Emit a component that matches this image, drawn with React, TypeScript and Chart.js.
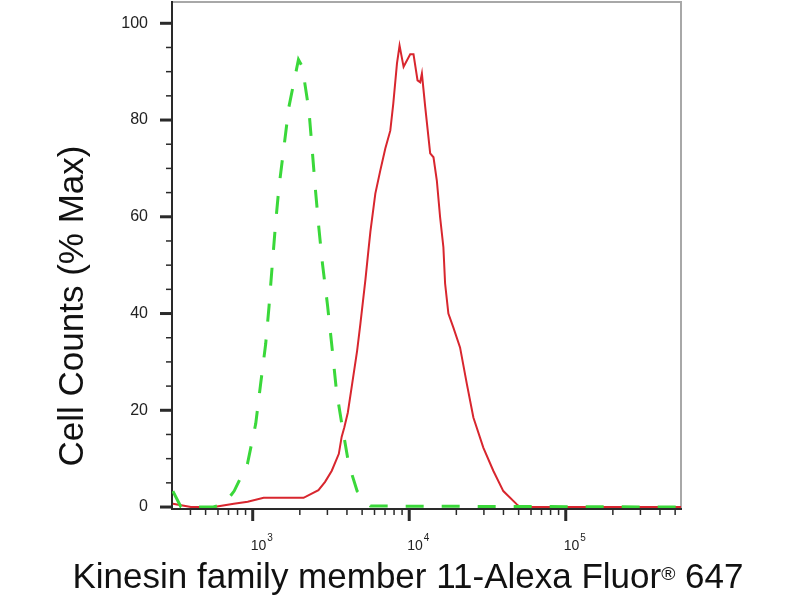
import React, { useEffect, useRef } from 'react';
import { Chart, registerables } from 'chart.js';

Chart.register(...registerables);

// Red sample histogram (fluorescence intensity, % max)
const redX = [309, 403, 565, 757, 929, 1175, 2113, 2630, 2900, 3200, 3550, 3700, 3850, 4050, 4316, 4645, 4876, 5250, 5484, 5650, 6073, 6536, 7033, 7568, 7909, 8351, 8675, 9204, 10145, 10650, 11300, 11750, 12050, 12650, 13610, 14290, 15010, 15750, 16530, 16950, 17790, 19150, 21120, 23320, 25700, 29740, 34440, 39910, 48530, 50950, 545000];
const redY = [0.7, 0, 0, 0.7, 1.1, 1.9, 1.9, 3.5, 5.2, 7.5, 11, 14.5, 16.5, 19.5, 25.4, 32.3, 37.9, 47, 53, 57, 64.8, 69.6, 74.1, 77.8, 83.4, 91.7, 95.4, 91, 93.6, 93.6, 88.2, 87.8, 89.6, 82.7, 73.1, 72.3, 67.5, 59.9, 53.7, 46.2, 40, 37.1, 33, 25.5, 18.5, 12.3, 7.5, 3.3, 0.6, 0, 0];

// Green isotype control histogram
const greenX = [309, 348, 560, 656, 761, 925, 1045, 1124, 1210, 1270, 1335, 1400, 1471, 1583, 1703, 1960, 2074, 2287, 2401, 2519, 2644, 2790, 3004, 3219, 3428, 3726, 4104, 4645, 5650, 545000];
const greenY = [3.3, 0, 0, 0.6, 3.3, 8.9, 17.2, 25.5, 33.7, 41.3, 50.3, 58.6, 66.1, 74.4, 82.7, 92.5, 91, 82, 73.7, 65.4, 57.8, 50.3, 41.8, 32.7, 24, 16.8, 8.9, 3.3, 0.2, 0];

const xTickValues = [1000, 10000, 100000];
const xTickBase = '10';
const xTickExponents = ['3', '4', '5'];
const xMinorTicks = [300, 400, 500, 600, 700, 800, 900, 2000, 3000, 4000, 5000, 6000, 7000, 8000, 9000, 20000, 30000, 40000, 50000, 60000, 70000, 80000, 90000, 200000, 300000, 400000, 500000];
const yTickValues = [0, 20, 40, 60, 80, 100];
const yMinorTicks = [5, 10, 15, 25, 30, 35, 45, 50, 55, 65, 70, 75, 85, 90, 95];

const xTitle = 'Kinesin family member 11-Alexa Fluor';
const xTitleSup = '®';
const xTitleEnd = ' 647';
const yTitle = 'Cell Counts (% Max)';

const NARROW = "'Liberation Sans Narrow', 'Liberation Sans', Arial, sans-serif";

const decorPlugin = {
  id: 'decor',
  beforeDatasetsDraw(chart: any) {
    const { ctx, chartArea: a, scales } = chart;
    const xs = scales.x;
    const ys = scales.y;
    ctx.save();
    ctx.lineCap = 'butt';
    // top & right frame
    ctx.strokeStyle = '#a8a8a8';
    ctx.lineWidth = 2;
    ctx.beginPath();
    ctx.moveTo(a.left, a.top);
    ctx.lineTo(a.right, a.top);
    ctx.lineTo(a.right, a.bottom);
    ctx.stroke();
    // left & bottom axes
    ctx.strokeStyle = '#2a2a2a';
    ctx.beginPath();
    ctx.moveTo(a.left, a.top - 1);
    ctx.lineTo(a.left, a.bottom + 1);
    ctx.lineTo(a.right + 1, a.bottom + 1);
    ctx.stroke();
    // y ticks
    for (const v of yTickValues) {
      const y = ys.getPixelForValue(v);
      ctx.lineWidth = 3;
      ctx.beginPath();
      ctx.moveTo(a.left - 12, y);
      ctx.lineTo(a.left, y);
      ctx.stroke();
    }
    ctx.lineWidth = 1.5;
    for (const v of yMinorTicks) {
      const y = ys.getPixelForValue(v);
      ctx.beginPath();
      ctx.moveTo(a.left - 6, y);
      ctx.lineTo(a.left, y);
      ctx.stroke();
    }
    // x ticks
    const b = a.bottom + 1;
    for (const v of xTickValues) {
      const x = xs.getPixelForValue(v);
      ctx.lineWidth = 3;
      ctx.beginPath();
      ctx.moveTo(x, b);
      ctx.lineTo(x, b + 12);
      ctx.stroke();
    }
    ctx.lineWidth = 1.5;
    for (const v of xMinorTicks) {
      if (v < xs.min || v > xs.max) continue;
      const x = xs.getPixelForValue(v);
      ctx.beginPath();
      ctx.moveTo(x, b);
      ctx.lineTo(x, b + 6);
      ctx.stroke();
    }
    // x tick labels: 10 with superscript exponent
    ctx.fillStyle = '#222';
    ctx.textBaseline = 'alphabetic';
    xTickValues.forEach((v, i) => {
      const x = xs.getPixelForValue(v);
      ctx.font = `14px ${NARROW}`;
      ctx.textAlign = 'left';
      const bw = ctx.measureText(xTickBase).width;
      const x0 = x - 2;
      ctx.fillText(xTickBase, x0, 550);
      ctx.font = `10px ${NARROW}`;
      ctx.fillText(xTickExponents[i], x0 + bw + 1, 541);
    });
    ctx.restore();
  },
};

export default function App() {
  const ref = useRef<HTMLCanvasElement | null>(null);

  useEffect(() => {
    if (!ref.current) return;
    const chart = new Chart(ref.current, {
      type: 'line',
      data: {
        datasets: [
          {
            label: 'Isotype control',
            data: greenX.map((x, i) => ({ x, y: greenY[i] })),
            borderColor: '#3ad83a',
            borderWidth: 3,
            borderDash: [18, 18],
            pointRadius: 0,
            tension: 0,
            fill: false,
          },
          {
            label: 'Kinesin family member 11',
            data: redX.map((x, i) => ({ x, y: redY[i] })),
            borderColor: '#d8262e',
            borderWidth: 2,
            pointRadius: 0,
            tension: 0,
            fill: false,
          },
        ],
      },
      options: {
        animation: false,
        responsive: false,
        maintainAspectRatio: false,
        layout: { padding: { top: 2, right: 119, left: 0, bottom: 0 } },
        plugins: {
          legend: { display: false },
          tooltip: { enabled: false },
        },
        scales: {
          x: {
            type: 'logarithmic',
            min: 305,
            max: 545000,
            grid: { display: false, drawTicks: false },
            border: { display: false },
            afterFit: (s: any) => {
              s.height = 92;
              s.paddingLeft = 0;
              s.paddingRight = 0;
              s.paddingTop = 0;
              s.paddingBottom = 0;
            },
            afterBuildTicks: (s: any) => {
              s.ticks = xTickValues.map((v) => ({ value: v, major: true }));
            },
            ticks: {
              display: false,
              autoSkip: false,
              maxRotation: 0,
            },
          },
          y: {
            type: 'linear',
            min: -0.2,
            max: 104.4,
            grid: { display: false, drawTicks: false },
            border: { display: false },
            afterFit: (s: any) => {
              s.width = 172;
              s.paddingTop = 0;
              s.paddingBottom = 0;
              s.paddingLeft = 0;
              s.paddingRight = 0;
            },
            afterBuildTicks: (s: any) => {
              s.ticks = yTickValues.map((v) => ({ value: v }));
            },
            ticks: {
              padding: 24,
              color: '#222',
              font: { family: "'Liberation Sans', Arial, sans-serif", size: 16 },
              callback: (v: any) => String(v),
            },
          },
        },
      },
      plugins: [decorPlugin],
    });
    return () => chart.destroy();
  }, []);

  return (
    <div
      style={{
        position: 'fixed',
        left: 0,
        top: 0,
        width: 800,
        height: 600,
        background: '#fff',
        overflow: 'hidden',
      }}
    >
      <canvas ref={ref} width={800} height={600} style={{ position: 'absolute', left: 0, top: 0 }} />
      <div
        style={{
          position: 'absolute',
          left: 71 - 220,
          top: 306 - 20,
          width: 440,
          height: 40,
          lineHeight: '40px',
          textAlign: 'center',
          transform: 'rotate(-90deg)',
          fontFamily: "'Liberation Sans', Arial, sans-serif",
          fontSize: 35,
          color: '#111',
          whiteSpace: 'nowrap',
        }}
      >
        {yTitle}
      </div>
      <div
        style={{
          position: 'absolute',
          left: 0,
          top: 558,
          width: 816,
          height: 40,
          lineHeight: '36px',
          textAlign: 'center',
          fontFamily: "'Liberation Sans', Arial, sans-serif",
          fontSize: 35,
          color: '#111',
          whiteSpace: 'nowrap',
        }}
      >
        {xTitle}
        <sup style={{ fontSize: '55%', verticalAlign: 'top', position: 'relative', top: -2 }}>{xTitleSup}</sup>
        {xTitleEnd}
      </div>
    </div>
  );
}
